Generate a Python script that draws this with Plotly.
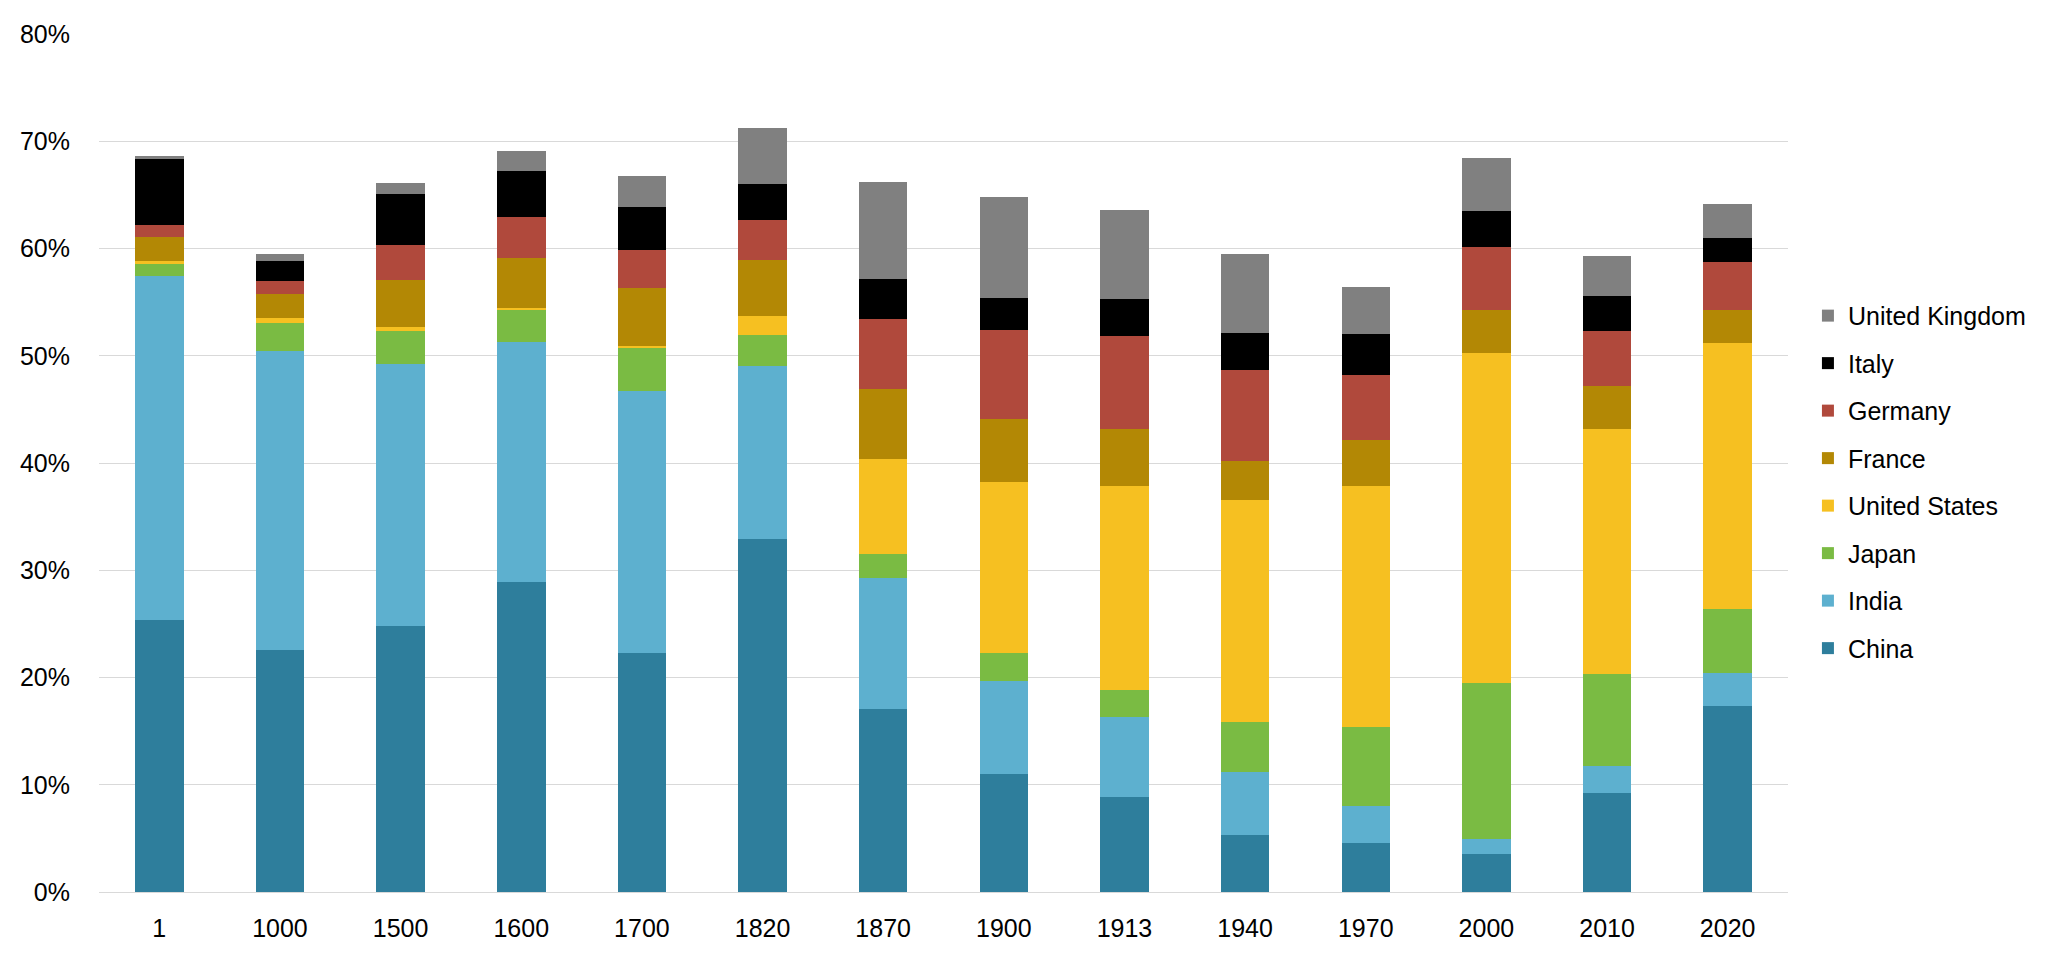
import plotly.graph_objects as go

years = ["1", "1000", "1500", "1600", "1700", "1820", "1870", "1900", "1913", "1940", "1970", "2000", "2010", "2020"]

china   = [25.4, 22.6, 24.8, 28.9, 22.3, 32.9, 17.05, 11.0, 8.83, 5.28, 4.57, 3.55, 9.19, 17.31]
india   = [32.0, 27.8, 24.4, 22.4, 24.4, 16.1, 12.2, 8.7, 7.45, 5.91, 3.42, 1.42, 2.53, 3.11]
japan   = [1.15, 2.7, 3.15, 2.95, 4.1, 2.95, 2.27, 2.6, 2.6, 4.66, 7.37, 14.56, 8.65, 5.99]
usa     = [0.3, 0.4, 0.3, 0.2, 0.15, 1.8, 8.9, 15.9, 19.0, 20.68, 22.46, 30.71, 22.77, 24.81]
france  = [2.2, 2.3, 4.4, 4.7, 5.35, 5.15, 6.5, 5.87, 5.29, 3.64, 4.35, 4.04, 4.0, 3.06]
germany = [1.15, 1.2, 3.3, 3.8, 3.6, 3.8, 6.5, 8.32, 8.65, 8.48, 6.08, 5.82, 5.19, 4.49]
italy   = [6.1, 1.85, 4.7, 4.3, 4.0, 3.3, 3.77, 2.98, 3.47, 3.46, 3.81, 3.42, 3.24, 2.22]
uk      = [0.3, 0.6, 1.1, 1.85, 2.85, 5.2, 9.02, 9.39, 8.28, 7.37, 4.35, 4.92, 3.73, 3.19]

series_names = ["China", "India", "Japan", "United States", "France", "Germany", "Italy", "United Kingdom"]
series_values = [china, india, japan, usa, france, germany, italy, uk]
series_colors = ["#2E7E9C", "#5DB0CF", "#7ABB43", "#F6C021", "#B38805", "#B0493C", "#000000", "#808080"]

FONT = "Liberation Sans, Arial, sans-serif"

fig = go.Figure()
n = len(series_names)
for i, (name, vals, col) in enumerate(zip(series_names, series_values, series_colors)):
    fig.add_trace(go.Bar(
        x=years, y=vals, name=name, legendgroup=name, legendrank=n - i,
        marker=dict(color=col, line=dict(width=0)),
    ))

fig.update_layout(
    width=2048, height=960,
    barmode="stack", bargap=0.598,
    plot_bgcolor="white", paper_bgcolor="white",
    margin=dict(l=84, r=268, t=20, b=76),
    font=dict(family=FONT, size=25, color="#000000"),
    legend=dict(
        traceorder="grouped", tracegroupgap=12,
        x=1.0118, xanchor="left", y=0.478, yanchor="middle",
        font=dict(family=FONT, size=25, color="#000000"),
        bgcolor="rgba(0,0,0,0)",
    ),
    showlegend=True,
)
fig.update_xaxes(
    type="category", showgrid=False, showline=False, ticks="",
    tickfont=dict(family=FONT, size=25, color="#000000"),
    ticklabelstandoff=19,
)
fig.update_yaxes(
    range=[0, 80], dtick=10, ticksuffix="%",
    showgrid=True, gridcolor="#D9D9D9", gridwidth=1,
    zeroline=True, zerolinecolor="#D9D9D9", zerolinewidth=1,
    showline=False, ticks="",
    tickfont=dict(family=FONT, size=25, color="#000000"),
    ticklabelstandoff=28,
)

fig.write_html("out.html")
